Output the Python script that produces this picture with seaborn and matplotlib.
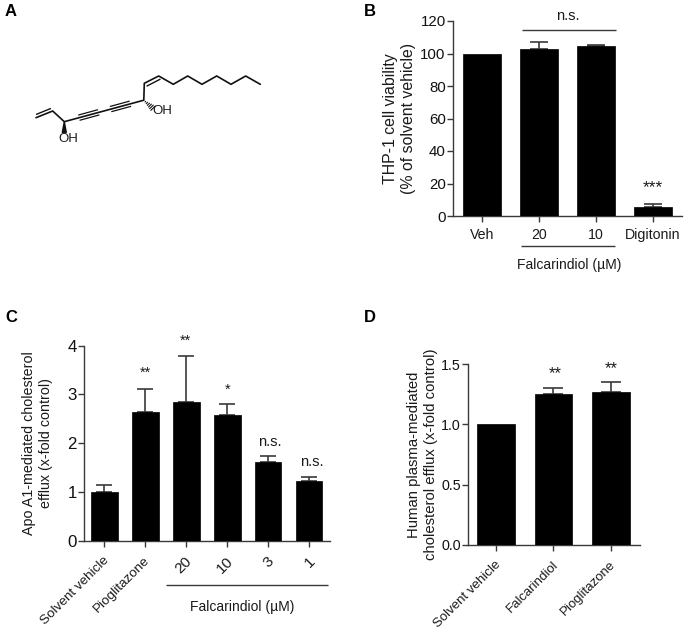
import numpy as np
import pandas as pd
import matplotlib
matplotlib.use("Agg")
import matplotlib.pyplot as plt
from matplotlib.patches import Polygon
from matplotlib.transforms import ScaledTranslation
import seaborn as sns

sns.set_theme(style="ticks")
plt.rcParams['font.family'] = ['Liberation Sans', 'DejaVu Sans']

W, H = 686, 630
INK = "#3a3a3a"

# panel B
b_labels = ["Veh", "20", "10", "Digitonin"]
b_values = [100, 102.5, 104.5, 5.8]
b_errors = [0, 4.6, 1.0, 1.8]

# panel C
c_labels = ["Solvent vehicle", "Pioglitazone", "20", "10", "3", "1"]
c_values = [1.0, 2.65, 2.85, 2.57, 1.61, 1.22]
c_errors = [0.14, 0.46, 0.94, 0.23, 0.12, 0.08]

# panel D
d_labels = ["Solvent vehicle", "Falcarindiol", "Pioglitazone"]
d_values = [1.0, 1.25, 1.265]
d_errors = [0, 0.055, 0.085]


def add_axes_px(fig, left, right, top, bottom):
    return fig.add_axes([left / W, 1 - bottom / H, (right - left) / W, (bottom - top) / H])


def bars(ax, labels, values, errors, ylim, yticks, xlim, ylabel, ylabel_x, tick_size, label_size,
         cap, xtick_size=10.2, width=0.66, rot=0, fmt=None, spacing=1.26):
    df = pd.DataFrame({"group": labels, "value": values})
    sns.barplot(data=df, x="group", y="value", color="black", saturation=1, width=width,
                errorbar=None, edgecolor="black", linewidth=0.5, ax=ax, zorder=3)
    keep = [i for i, e in enumerate(errors) if e > 0]
    ax.errorbar(keep, [values[i] for i in keep],
                yerr=[np.zeros(len(keep)), [errors[i] for i in keep]], fmt="none",
                ecolor=INK, elinewidth=1.2, capsize=cap, capthick=1.2, zorder=2)
    ax.set_xlim(*xlim)
    ax.set_ylim(*ylim)
    ax.set_yticks(list(yticks))
    if fmt:
        ax.set_yticklabels([fmt % t for t in yticks])
    ax.set_xlabel("")
    ax.set_ylabel(ylabel, fontsize=label_size, color="#1a1a1a", linespacing=spacing)
    ax.yaxis.set_label_coords(ylabel_x, 0.5)
    sns.despine(ax=ax)
    for s in ["left", "bottom"]:
        ax.spines[s].set_linewidth(1.0)
        ax.spines[s].set_color(INK)
    ax.tick_params(axis="y", labelsize=tick_size, length=4.3, width=1.0, color=INK,
                   labelcolor="#111111", pad=1)
    ax.tick_params(axis="x", labelsize=xtick_size, length=4.3, width=1.0, color=INK,
                   labelcolor="#1a1a1a", pad=4)
    ax.patch.set_alpha(0)
    if rot:
        shift = ScaledTranslation(-1.5 / 100, -2 / 100, fig.dpi_scale_trans)
        for t in ax.get_xticklabels():
            t.set_rotation(rot)
            t.set_ha("right")
            t.set_va("top")
            t.set_rotation_mode("anchor")
            t.set_transform(t.get_transform() + shift)
            if t.get_text().isdigit():
                t.set_fontsize(11)


fig = plt.figure(figsize=(W / 100, H / 100), dpi=100)

ax_b = add_axes_px(fig, 453, 682, 21, 216)
bars(ax_b, b_labels, b_values, b_errors, (0, 120), range(0, 121, 20), (-0.51, 3.51),
     "THP-1 cell viability\n(% of solvent vehicle)", -(453 - 416) / 229, 10.8, 11.4, cap=6.8)

ax_c = add_axes_px(fig, 84, 330, 345.7, 540.7)
bars(ax_c, c_labels, c_values, c_errors, (0, 4), range(0, 5), (-0.5, 5.51),
     "Apo A1-mediated cholesterol\nefflux (x-fold control)", -(84 - 53) / 246, 12.2, 10.3, cap=5.7,
     xtick_size=9.7, width=0.65, rot=45, spacing=1.3)

ax_d = add_axes_px(fig, 468, 640, 364, 545)
bars(ax_d, d_labels, d_values, d_errors, (0, 1.5), [0, 0.5, 1.0, 1.5], (-0.49, 2.51),
     "Human plasma-mediated\ncholesterol efflux (x-fold control)", -(468 - 438) / 172, 10.3, 10.7, cap=7.2,
     xtick_size=9.5, rot=45, fmt="%.1f", spacing=1.3)

# overlay in pixel coordinates: panel letters, brackets, significance marks, structure
ov = fig.add_axes([0, 0, 1, 1], zorder=10)
ov.set_xlim(0, W)
ov.set_ylim(H, 0)
ov.axis("off")

for letter, x, y in [("A", 10.7, 11.3), ("B", 369.5, 11), ("C", 11, 317), ("D", 369.5, 317)]:
    ov.text(x, y, letter, fontsize=12, fontweight="bold", color="black", ha="center", va="center")


def bracket(x0, x1, y):
    ov.plot([x0, x1], [y, y], color=INK, lw=1.0, solid_capstyle="butt")


def mark(x, y, s, size=9.5):
    ov.text(x, y, s, fontsize=size, color="#1a1a1a", ha="center", va="center")


bracket(522, 616, 30)
mark(568, 15.5, "n.s.", 10.5)
mark(653, 188, "***", 12.5)
bracket(521, 615, 245.5)
mark(569, 265, "Falcarindiol (µM)", 10)

mark(145.7, 373, "**", 10.5)
mark(185.5, 340.5, "**", 10.5)
mark(227.3, 389.5, "*", 10.5)
mark(270, 441.5, "n.s.", 10.5)
mark(311.5, 462, "n.s.", 10.5)
bracket(166, 328, 585)
mark(242, 607, "Falcarindiol (µM)", 10)

mark(555, 373.5, "**", 12)
mark(611.7, 368.5, "**", 12)


# falcarindiol structure
def line(xs, ys, lw=1.2):
    ov.plot(xs, ys, color="#111111", lw=lw, solid_capstyle="round", solid_joinstyle="round")


line([36, 52.7, 64.3, 143.8, 144.3, 158.7, 173.3, 187.7, 202, 216.7, 231, 245.7, 260.3],
     [117.7, 111, 121.7, 100.2, 83.3, 76, 84.3, 76, 84.3, 76, 84.3, 76, 84.3])
line([36.5, 50.5], [114.3, 108.6], lw=1.0)
line([147, 160], [86, 79.3], lw=1.0)
for x0, y0, x1, y1 in [(79.3, 117.6, 98.3, 112.4), (111, 109, 130, 103.8)]:
    line([x0 - 0.7, x1 - 0.7], [y0 - 2.6, y1 - 2.6], lw=0.9)
    line([x0 + 0.7, x1 + 0.7], [y0 + 2.6, y1 + 2.6], lw=0.9)
ov.add_patch(Polygon([(64.3, 121.7), (62.3, 132.5), (66.3, 132.5)], color="#111111"))
for f in np.linspace(0.15, 1, 6):
    cx, cy = 144 + 9 * f, 100.5 + 7.7 * f
    ov.plot([cx - 2.2 * f, cx + 2.2 * f], [cy + 2.2 * f, cy - 2.2 * f], color="#111111", lw=0.8)
mark(68, 139.5, "OH", 9.5)
mark(162, 111, "OH", 9.5)

fig.savefig("out.png", dpi=100)
